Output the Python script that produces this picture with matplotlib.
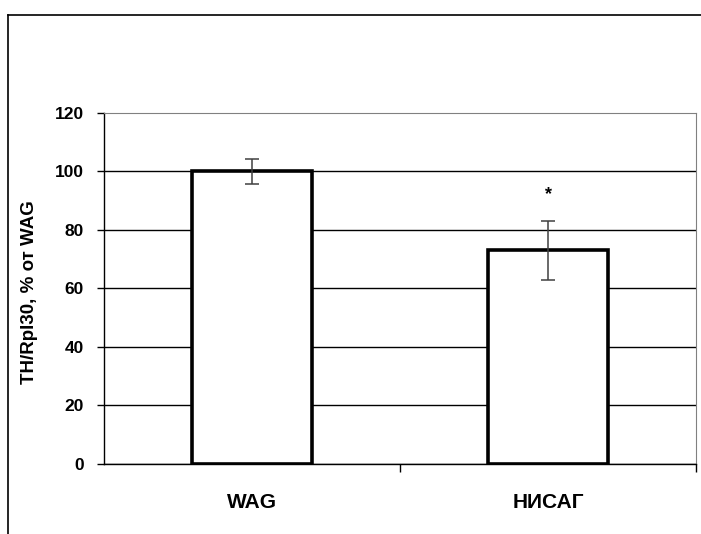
import matplotlib
matplotlib.use('Agg')
import matplotlib.pyplot as plt
from matplotlib.lines import Line2D

plt.rcParams['font.family'] = ['Liberation Sans', 'DejaVu Sans']
plt.rcParams['font.weight'] = 'bold'

# Данные: уровень TH/Rpl30 в % от WAG
groups = ["WAG", "НИСАГ"]
values = [100, 73]
errors = [4.2, 10]
marks = ["", "*"]
y_ticks = [0, 20, 40, 60, 80, 100, 120]

fig = plt.figure(figsize=(7.01, 5.34), dpi=100)
ax = fig.add_axes([0.1484, 0.1311, 0.8445, 0.6573])

x = range(len(groups))
ax.bar(x, values, width=0.405, color='white', edgecolor='black', linewidth=2.6, zorder=3)
ax.errorbar(x, values, yerr=errors, fmt='none', ecolor='#404040', elinewidth=1.1,
            capsize=5, capthick=1.1, zorder=4)
for xi, v, e, m in zip(x, values, errors, marks):
    if m:
        ax.text(xi, v + e + 9, m, ha='center', va='center', fontsize=13)

ax.set_ylim(0, 120)
ax.set_xlim(-0.5, len(groups) - 0.5)
ax.set_yticks(y_ticks)
ax.tick_params(axis='y', direction='out', length=5, width=1, labelsize=12.5, pad=9.5)
ax.yaxis.grid(True, color='black', linewidth=1, zorder=0)
ax.set_axisbelow(True)
# верхняя линия сетки совпадает с серой рамкой области построения
ax.get_ygridlines()[-1].set_visible(False)

# метки категорий и засечки между ними
ax.set_xticks(list(x))
ax.set_xticklabels(groups, fontsize=15)
ax.set_xticks([0.5, 1.5], minor=True)
ax.tick_params(axis='x', which='major', length=0, pad=21)
ax.tick_params(axis='x', which='minor', direction='out', length=6, width=1)

ax.spines['top'].set_color('#808080')
ax.spines['right'].set_color('#808080')
ax.spines['left'].set_linewidth(1)
ax.spines['bottom'].set_linewidth(1)

ax.set_ylabel("TH/Rpl30, % от WAG", fontsize=13.5, fontweight='bold')
ax.yaxis.set_label_coords(-0.112, 0.49)

# рамка области диаграммы
fig.add_artist(Line2D([0.0121, 0.0121], [0.0, 0.971], color='black', linewidth=1.2))
fig.add_artist(Line2D([0.0121, 1.0], [0.971, 0.971], color='black', linewidth=1.2))

fig.savefig('out.png', dpi=100)
